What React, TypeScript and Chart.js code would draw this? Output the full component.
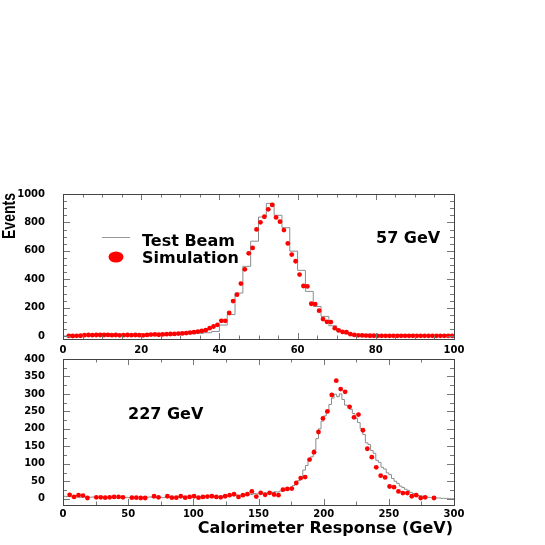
import React, { useEffect, useRef } from "react";
import { Chart, registerables } from "chart.js";

Chart.register(...registerables);

// ---------- DATA ----------
// Top panel (57 GeV): simulation points, 1 GeV bins starting at 0
const topSimBinWidth = 1;
const topSimValues: (number | null)[] = [
  null, 2, 1, 2, 3,
  7, 8, 7, 8, 8, 8, 9, 7, 8, 6, 7, 8, 7, 8, 7, 6,
  9, 11, 12, 10, 12, 14, 15, 16, 18, 19,
  22, 25, 28, 32,
  37, 42, 56, 68, 80,
  108, 108, 163, 247, 292, 370, 470, 583, 621, 751,
  801, 840, 892, 923, 835, 805, 746, 652, 574, 527,
  433, 353, 350, 228, 226, 179, 120, 101, 99, 56,
  40, 30, 28, 14, 9,
  6, 5, 4, 3, 3, 2, 2, 2, 2, 2, 2, 2, 2, 2, 2, 2, 2, 2, 2, 2, 2, 2, 2, 2, 2,
];
// Top panel test beam histogram, 2 GeV bins starting at 0
const topBeamBinWidth = 2;
const topBeamValues = [
  1, 2, 4, 5, 6, 6, 5, 6, 5, 6,
  7, 8, 9, 10, 12, 14, 17, 20, 24, 33,
  78, 152, 303, 491, 668, 838, 934, 850, 763, 598,
  463, 315, 209, 139, 73, 33, 15, 7, 4, 3,
  2, 2, 2, 2, 2, 2, 2, 2, 2, 2,
];
const topXTicks = [0, 20, 40, 60, 80, 100];
const topYTicks = [0, 200, 400, 600, 800, 1000];

// Bottom panel (227 GeV): simulation points, 88 bins over 0-300
const botSimBinWidth = 300 / 88;
const botSimValues: (number | null)[] = [
  null, 11, 5, 10, 9, 2, null, 4, 4, 3,
  4, 5, 5, 4, null, 3, 3, 2, 2, null,
  7, 4, null, 7, 3, 3, 7, 3, 5, 7,
  3, 5, 6, 7, 5, 4, 7, 10, 13, 5,
  10, 13, 21, 6, 17, 11, 17, 12, 10, 26,
  28, 29, 45, 59, 62, 112, 133, 191, 230, 250,
  297, 338, 314, 306, 263, 233, 241, 196, 143, 119,
  90, 66, 61, 35, 33, 21, 16, 16, 7, 10,
  2, 4, null, 2, null, null, null, null,
];
// Bottom panel test beam histogram, 2 GeV bins over 0-300
const botBeamBinWidth = 2;
const botBeamValues = [
  7, 6, 8, 5, 6, 5, 4, 6, 5, 4,
  4, 5, 3, 4, 5, 3, 4, 3, 4, 4,
  3, 4, 3, 3, 4, 3, 2, 4, 3, 3,
  4, 3, 4, 5, 3, 4, 5, 4, 3, 5,
  4, 5, 4, 4, 5, 4, 5, 5, 5, 6,
  5, 4, 6, 5, 6, 5, 7, 6, 5, 7,
  6, 8, 7, 8, 9, 8, 10, 9, 11, 12,
  10, 13, 12, 15, 14, 16, 14, 17, 16, 18,
  18, 20, 19, 22, 24, 25, 28, 31, 38, 45,
  52, 62, 82, 95, 110, 120, 140, 172, 200, 222,
  237, 250, 270, 288, 299, 292, 300, 284, 268, 266,
  256, 244, 230, 218, 200, 184, 160, 155, 138, 130,
  110, 104, 90, 85, 74, 69, 58, 50, 44, 36,
  32, 27, 24, 18, 15, 12, 9, 8, 6, 5,
  4, 3, 3, 2, 2, 1, 1, 1, 0, 0,
];
const botXTicks = [0, 50, 100, 150, 200, 250, 300];
const botYTicks = [0, 50, 100, 150, 200, 250, 300, 350, 400];

// ---------- HELPERS ----------
const simPoints = (vals: (number | null)[], w: number) =>
  vals
    .map((v, i) => (v === null ? null : { x: (i + 0.5) * w, y: v }))
    .filter((p) => p !== null);

const histPoints = (vals: number[], w: number) => {
  const pts = vals.map((v, i) => ({ x: i * w, y: v }));
  pts.push({ x: vals.length * w, y: vals[vals.length - 1] });
  return pts;
};

const TICK_FONT = { family: '"DejaVu Sans", sans-serif', weight: "bold" as const, size: 10 };
const TEXT_FONT = 'bold 16px "DejaVu Sans", sans-serif';

function frameTicks(xMinor: number, xMajor: number, yMinor: number, yMajor: number) {
  return {
    id: "frameTicks",
    afterDatasetsDraw(chart: any) {
      const { ctx, chartArea: a, scales } = chart;
      const x = scales.x;
      const y = scales.y;
      ctx.save();
      ctx.lineWidth = 1;
      ctx.strokeStyle = "#777";
      ctx.beginPath();
      for (let k = 0; k * xMinor <= x.max + 1e-9; k++) {
        const v = k * xMinor;
        const px = Math.round(x.getPixelForValue(v)) + 0.5;
        const len = Math.abs(v / xMajor - Math.round(v / xMajor)) < 1e-6 ? 6 : 3.5;
        ctx.moveTo(px, a.bottom);
        ctx.lineTo(px, a.bottom - len);
        ctx.moveTo(px, a.top);
        ctx.lineTo(px, a.top + len);
      }
      for (let k = 0; k * yMinor <= y.max + 1e-9; k++) {
        const v = k * yMinor;
        const py = Math.round(y.getPixelForValue(v)) + 0.5;
        const len = Math.abs(v / yMajor - Math.round(v / yMajor)) < 1e-6 ? 7 : 4;
        ctx.moveTo(a.left, py);
        ctx.lineTo(a.left + len, py);
        ctx.moveTo(a.right, py);
        ctx.lineTo(a.right - len, py);
      }
      ctx.stroke();
      ctx.strokeStyle = "#444";
      ctx.strokeRect(
        Math.round(a.left) + 0.5,
        Math.round(a.top) + 0.5,
        Math.round(a.right - a.left),
        Math.round(a.bottom - a.top)
      );
      ctx.restore();
    },
  };
}

const topText = {
  id: "topText",
  afterDraw(chart: any) {
    const ctx = chart.ctx;
    ctx.save();
    ctx.fillStyle = "#000";
    // Y axis title
    ctx.save();
    ctx.translate(10.5, 216);
    ctx.rotate(-Math.PI / 2);
    ctx.font = 'bold 18px "Liberation Sans", Arial, sans-serif';
    ctx.textAlign = "center";
    ctx.textBaseline = "middle";
    ctx.fillText("Events", 0, 0, 46);
    ctx.restore();
    // legend
    ctx.strokeStyle = "#999";
    ctx.lineWidth = 1;
    ctx.beginPath();
    ctx.moveTo(102, 237.5);
    ctx.lineTo(130, 237.5);
    ctx.stroke();
    ctx.fillStyle = "#ff0000";
    ctx.beginPath();
    ctx.ellipse(116, 257, 7.5, 5.5, 0, 0, Math.PI * 2);
    ctx.fill();
    ctx.fillStyle = "#000";
    ctx.font = TEXT_FONT;
    ctx.textAlign = "left";
    ctx.textBaseline = "alphabetic";
    ctx.fillText("Test Beam", 142, 245.5);
    ctx.fillText("Simulation", 142, 262.5);
    ctx.fillText("57 GeV", 376, 242.5);
    ctx.restore();
  },
};

const botText = {
  id: "botText",
  afterDraw(chart: any) {
    const ctx = chart.ctx;
    ctx.save();
    ctx.fillStyle = "#000";
    ctx.font = TEXT_FONT;
    ctx.textBaseline = "alphabetic";
    ctx.textAlign = "left";
    ctx.fillText("227 GeV", 128, 418.5);
    ctx.textAlign = "right";
    ctx.fillText("Calorimeter Response (GeV)", 453, 533);
    ctx.restore();
  },
};

function makeConfig(p: {
  sim: any[];
  hist: any[];
  xMax: number;
  yMin: number;
  yMax: number;
  xTicks: number[];
  yTicks: number[];
  padding: { left: number; right: number; top: number; bottom: number };
  xPad: number;
  plugins: any[];
}) {
  return {
    type: "scatter" as const,
    data: {
      datasets: [
        {
          label: "Simulation",
          data: p.sim,
          showLine: false,
          pointRadius: 2.4,
          pointBorderWidth: 0,
          pointBackgroundColor: "#ff0000",
          backgroundColor: "#ff0000",
          order: 0,
        },
        {
          type: "line" as const,
          label: "Test Beam",
          data: p.hist,
          stepped: "before" as const,
          borderColor: "#8c8c8c",
          borderWidth: 1,
          pointRadius: 0,
          fill: false,
          order: 1,
        },
      ],
    },
    options: {
      animation: false as const,
      responsive: false,
      events: [],
      layout: { padding: p.padding },
      plugins: { legend: { display: false }, tooltip: { enabled: false } },
      scales: {
        x: {
          type: "linear" as const,
          min: 0,
          max: p.xMax,
          afterBuildTicks: (s: any) => {
            s.ticks = p.xTicks.map((v) => ({ value: v }));
          },
          afterFit: (s: any) => {
            s.height = 20;
          },
          grid: { display: false },
          border: { display: false },
          ticks: {
            font: TICK_FONT,
            color: "#000",
            padding: p.xPad,
            maxRotation: 0,
            autoSkip: false,
            callback: (v: any) => String(v),
          },
        },
        y: {
          type: "linear" as const,
          min: p.yMin,
          max: p.yMax,
          afterBuildTicks: (s: any) => {
            s.ticks = p.yTicks.map((v) => ({ value: v }));
          },
          afterFit: (s: any) => {
            s.width = 63;
          },
          grid: { display: false },
          border: { display: false },
          ticks: {
            font: TICK_FONT,
            color: "#000",
            padding: 10,
            autoSkip: false,
            callback: (v: any) => String(v),
          },
        },
      },
    },
    plugins: p.plugins,
  };
}

export default function App() {
  const topRef = useRef<HTMLCanvasElement>(null);
  const botRef = useRef<HTMLCanvasElement>(null);

  useEffect(() => {
    const top = new Chart(
      topRef.current as HTMLCanvasElement,
      makeConfig({
        sim: simPoints(topSimValues, topSimBinWidth),
        hist: histPoints(topBeamValues, topBeamBinWidth),
        xMax: 100,
        yMin: -20,
        yMax: 1000,
        xTicks: topXTicks,
        yTicks: topYTicks,
        padding: { left: 0, right: 91, top: 194, bottom: 186 },
        xPad: -3,
        plugins: [frameTicks(5, 20, 50, 200), topText],
      }) as any
    );
    const bot = new Chart(
      botRef.current as HTMLCanvasElement,
      makeConfig({
        sim: simPoints(botSimValues, botSimBinWidth),
        hist: histPoints(botBeamValues, botBeamBinWidth),
        xMax: 300,
        yMin: -18,
        yMax: 400,
        xTicks: botXTicks,
        yTicks: botYTicks,
        padding: { left: 0, right: 91, top: 359, bottom: 20 },
        xPad: -5,
        plugins: [frameTicks(25, 50, 25, 50), botText],
      }) as any
    );
    return () => {
      top.destroy();
      bot.destroy();
    };
  }, []);

  return (
    <div style={{ position: "fixed", left: 0, top: 0, width: 545, height: 545, background: "#fff" }}>
      <canvas ref={topRef} width={545} height={545} style={{ position: "absolute", left: 0, top: 0 }} />
      <canvas ref={botRef} width={545} height={545} style={{ position: "absolute", left: 0, top: 0 }} />
    </div>
  );
}
